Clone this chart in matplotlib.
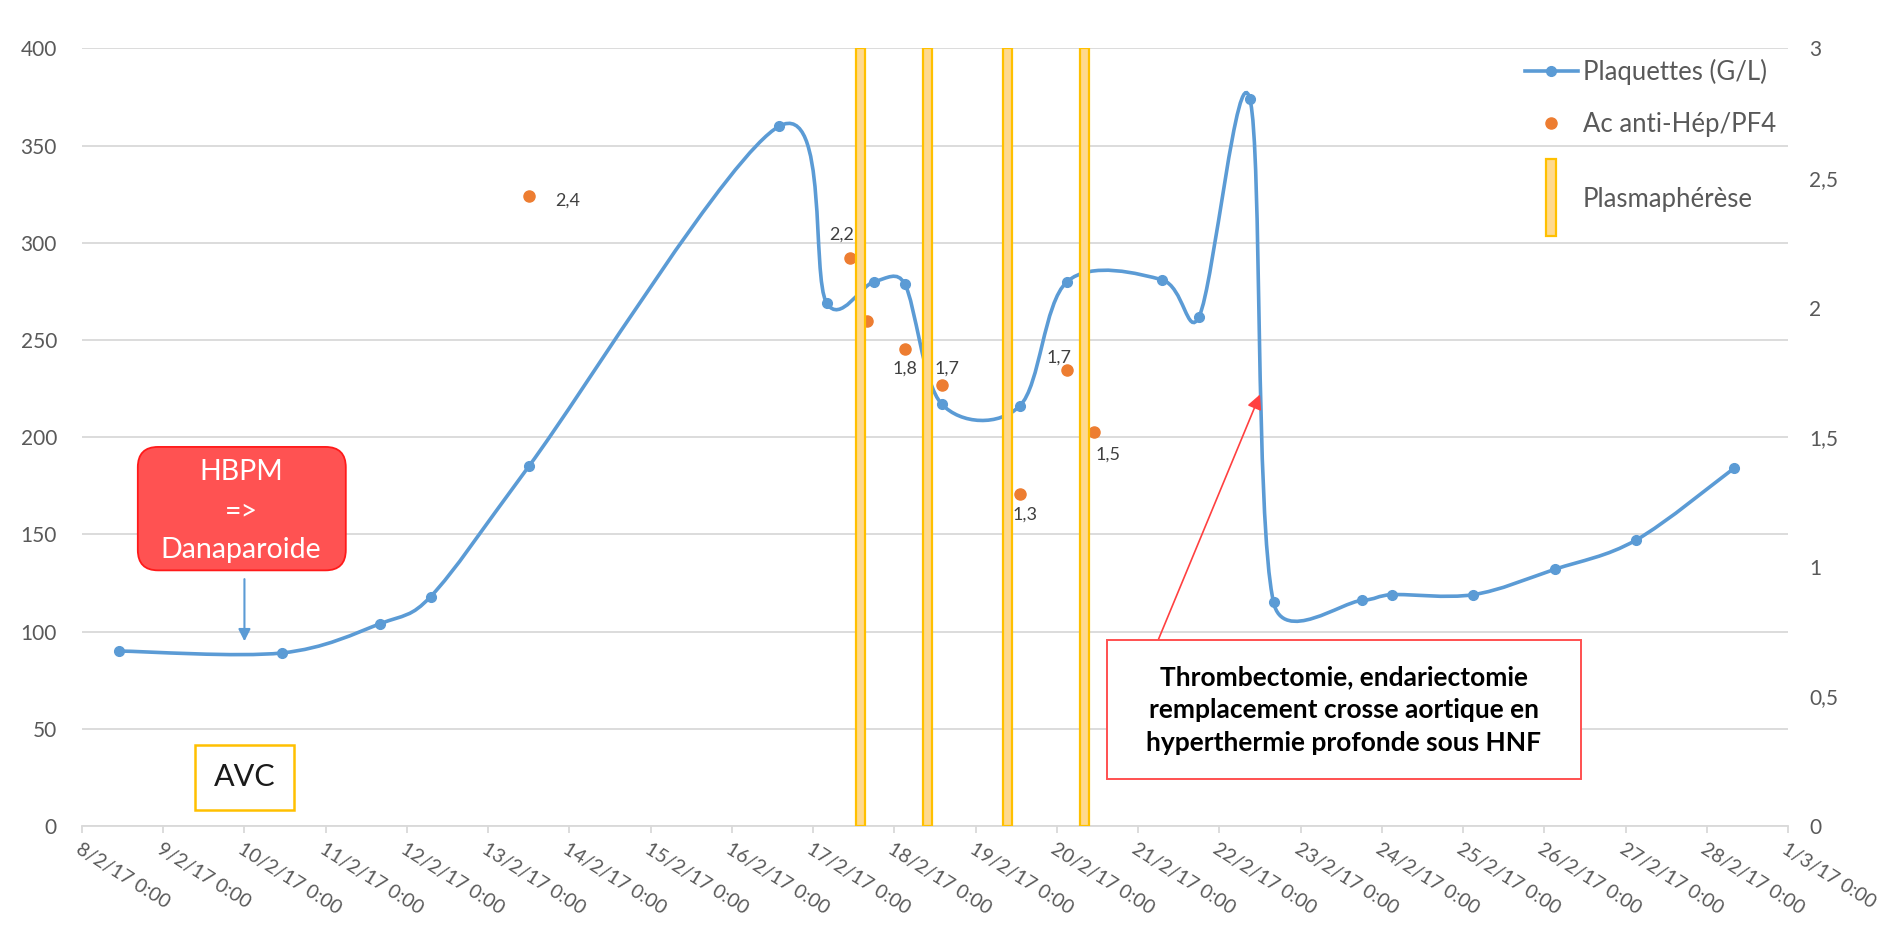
import numpy as np
import matplotlib
matplotlib.use("Agg")
import matplotlib.pyplot as plt
import matplotlib.dates as mdates
import matplotlib.patches as mpatches
from matplotlib.path import Path
from matplotlib.lines import Line2D
from matplotlib.legend_handler import HandlerPatch
from datetime import datetime, timedelta

plt.rcParams['font.family'] = ['Lato', 'DejaVu Sans']

# Plaquettes (G/L) - left axis
plaq_dates = ["2017-02-08 11:00", "2017-02-10 11:00", "2017-02-11 16:00",
              "2017-02-12 07:00", "2017-02-13 12:00", "2017-02-16 14:00",
              "2017-02-17 04:00", "2017-02-17 18:00", "2017-02-18 03:00",
              "2017-02-18 14:00", "2017-02-19 13:00", "2017-02-20 03:00",
              "2017-02-21 07:00", "2017-02-21 18:00", "2017-02-22 09:00",
              "2017-02-22 16:00", "2017-02-23 18:00", "2017-02-24 03:00",
              "2017-02-25 03:00", "2017-02-26 03:00", "2017-02-27 03:00",
              "2017-02-28 08:00"]
plaq_values = [90, 89, 104, 118, 185, 360, 269, 280, 279, 217, 216, 280,
               281, 262, 374, 115, 116, 119, 119, 132, 147, 184]

# Ac anti-Hep/PF4 - right axis
pf4_dates = ["2017-02-13 12:00", "2017-02-17 11:00", "2017-02-17 16:00",
             "2017-02-18 03:00", "2017-02-18 14:00", "2017-02-19 13:00",
             "2017-02-20 03:00", "2017-02-20 11:00"]
pf4_values = [2.43, 2.19, 1.95, 1.84, 1.70, 1.28, 1.76, 1.52]
pf4_labels = ["2,4", "2,2", "", "1,8", "1,7", "1,3", "1,7", "1,5"]
pf4_label_offsets = [(19, -3), (-6, 17), (0, 0), (0, -14), (4, 12),
                     (4, -15), (-6, 9), (10, -16)]

# Plasmapherese sessions
plasma_dates = ["2017-02-17 14:00", "2017-02-18 09:40", "2017-02-19 09:20",
                "2017-02-20 08:10"]

x_start = datetime(2017, 2, 8)
x_end = datetime(2017, 3, 1)
tick_dates = [x_start + timedelta(days=i) for i in range(22)]
tick_labels = [f"{d.day}/{d.month}/{d.year % 100} 0:00" for d in tick_dates]
left_ticks = [0, 50, 100, 150, 200, 250, 300, 350, 400]
right_ticks = [0, 0.5, 1, 1.5, 2, 2.5, 3]
right_tick_labels = ["0", "0,5", "1", "1,5", "2", "2,5", "3"]

BLUE = '#5B9BD5'
ORANGE = '#ED7D31'
GOLD = '#FFC000'
GOLD_FILL = '#FFD98E'
GRID = '#D9D9D9'
TXT = '#595959'


def to_num(strings):
    return mdates.date2num([datetime.strptime(s, "%Y-%m-%d %H:%M") for s in strings])


def d(*args):
    return mdates.date2num(datetime(*args))


def excel_smooth(ax, x, y):
    # Excel-like smoothed line: bezier arms of 1/6, capped at half the segment (screen space)
    pts = ax.transData.transform(np.column_stack([x, y]))
    n = len(pts)
    verts = [pts[0]]
    codes = [Path.MOVETO]
    for i in range(n - 1):
        p0 = pts[max(i - 1, 0)]
        p1 = pts[i]
        p2 = pts[i + 1]
        p3 = pts[min(i + 2, n - 1)]
        d12 = np.hypot(*(p2 - p1))
        d02 = np.hypot(*(p2 - p0))
        d13 = np.hypot(*(p3 - p1))
        f1 = d12 / 2 / d02 if d02 / 6 > d12 / 2 else 1 / 6
        f2 = d12 / 2 / d13 if d13 / 6 > d12 / 2 else 1 / 6
        verts += [p1 + f1 * (p2 - p0), p2 - f2 * (p3 - p1), p2]
        codes += [Path.CURVE4] * 3
    return Path(ax.transData.inverted().transform(np.array(verts)), codes)


def tall_rect(legend, orig_handle, xdescent, ydescent, width, height, fontsize):
    return mpatches.Rectangle((-xdescent + width / 2 - 3.6, -ydescent + height / 2 - 2.15 * height),
                              7.2, 4.3 * height)


px = to_num(plaq_dates)
ox = to_num(pf4_dates)
bx = to_num(plasma_dates)
bar_w = 0.11

fig = plt.figure(figsize=(18.97, 9.31), dpi=100)
ax = fig.add_axes([0.0432, 0.1128, 0.8994, 0.8352])
ax2 = ax.twinx()

ax.set_xlim(x_start, x_end)
ax.set_ylim(0, 400)
ax2.set_ylim(0, 3)

# gridlines and axes styling
ax.set_yticks(left_ticks)
ax.grid(axis='y', color=GRID, lw=1.3)
ax.set_axisbelow(True)
for a in (ax, ax2):
    for s in a.spines.values():
        s.set_visible(False)
ax.spines['bottom'].set_visible(True)
ax.spines['bottom'].set_color(GRID)
ax.spines['bottom'].set_linewidth(1.3)

ax.set_xticks(mdates.date2num(tick_dates))
ax.set_xticklabels(tick_labels, rotation=-32, ha='left', va='top',
                   rotation_mode='anchor')
ax.tick_params(axis='x', colors=GRID, labelcolor=TXT, labelsize=14,
               length=5, width=1.3, pad=5)
ax.tick_params(axis='y', length=0, labelcolor=TXT, labelsize=15, pad=18)
ax2.set_yticks(right_ticks)
ax2.set_yticklabels(right_tick_labels)
ax2.tick_params(axis='y', length=0, labelcolor=TXT, labelsize=15, pad=15)

# platelet curve
ax.add_patch(mpatches.PathPatch(excel_smooth(ax, px, plaq_values), facecolor='none',
                                edgecolor=BLUE, lw=2.6, zorder=3))
ax.plot(px, plaq_values, 'o', color=BLUE, ms=7, zorder=4)

# anti-PF4 antibodies
ax2.plot(ox, pf4_values, 'o', color=ORANGE, ms=8, zorder=2)
for xv, yv, lab, off in zip(ox, pf4_values, pf4_labels, pf4_label_offsets):
    if lab:
        ax2.annotate(lab, (xv, yv), xytext=off, textcoords='offset points',
                     ha='left' if off[0] > 15 else 'center', va='center',
                     fontsize=13, color='#404040')

# plasmapherese bars
for b in bx:
    ax2.axvspan(b - bar_w / 2, b + bar_w / 2, facecolor=GOLD_FILL,
                edgecolor=GOLD, lw=1.6, zorder=5)

# HBPM -> Danaparoide (rounded box, radius ~20 px)
ax.add_patch(mpatches.FancyBboxPatch((d(2017, 2, 8, 16, 30), 131.5), 2.56, 63.5,
                                     boxstyle='round,pad=0,rounding_size=0.25',
                                     mutation_aspect=42, fc='#FF5252', ec='#FF1A1A',
                                     lw=1.3, zorder=6))
ax.text(d(2017, 2, 9, 23), 162, "HBPM\n=>\nDanaparoide", ha='center', va='center',
        fontsize=20.5, color='white', linespacing=1.6, zorder=7)
ax.annotate("", xy=(d(2017, 2, 10), 95), xytext=(d(2017, 2, 10), 127),
            arrowprops=dict(arrowstyle='-|>', color=BLUE, lw=1.5,
                            mutation_scale=18, shrinkA=0, shrinkB=0))

# AVC
ax.text(d(2017, 2, 10), 25, "AVC", ha='center', va='center', fontsize=22,
        color='#1a1a1a', zorder=6,
        bbox=dict(boxstyle='square,pad=0.6', fc='white', ec=GOLD, lw=1.8))

# surgery
ax.add_patch(mpatches.Rectangle((d(2017, 2, 20, 14, 40), 24), 5.84, 71.8,
                                fc='white', ec='#FF5050', lw=1.4, zorder=6))
ax.text(d(2017, 2, 23, 12, 45), 59.5,
        "Thrombectomie, endariectomie\nremplacement crosse aortique en\nhyperthermie profonde sous HNF",
        ha='center', va='center', fontsize=19, fontweight='bold', color='black',
        linespacing=1.45, zorder=7)
ax.annotate("", xy=(d(2017, 2, 22, 12), 222), xytext=(d(2017, 2, 21, 6), 96),
            arrowprops=dict(arrowstyle='-|>', color='#FF4040', lw=1.2,
                            mutation_scale=22, shrinkA=0, shrinkB=0))

# legend (two blocks so the plasmapherese entry sits lower, as in Excel)
leg_kw = dict(frameon=False, fontsize=18.5, labelcolor=TXT, handlelength=2.05,
              handletextpad=0.2, borderpad=0, borderaxespad=0, loc='upper left')
h1 = [Line2D([], [], color=BLUE, lw=2.6, marker='o', ms=7),
      Line2D([], [], color=ORANGE, lw=0, marker='o', ms=8)]
leg1 = ax2.legend(h1, ["Plaquettes (G/L)", "Ac anti-Hép/PF4"],
                  bbox_to_anchor=(0.8458, 0.987), labelspacing=1.05, **leg_kw)
ax2.add_artist(leg1)
h2 = [mpatches.Patch(facecolor=GOLD_FILL, edgecolor=GOLD, lw=1.6)]
leg2 = ax2.legend(h2, ["Plasmaphérèse"], bbox_to_anchor=(0.8458, 0.822),
                  handler_map={mpatches.Patch: HandlerPatch(patch_func=tall_rect)},
                  **leg_kw)
leg1.set_zorder(8)
leg2.set_zorder(8)

fig.savefig("out.png", dpi=100)
